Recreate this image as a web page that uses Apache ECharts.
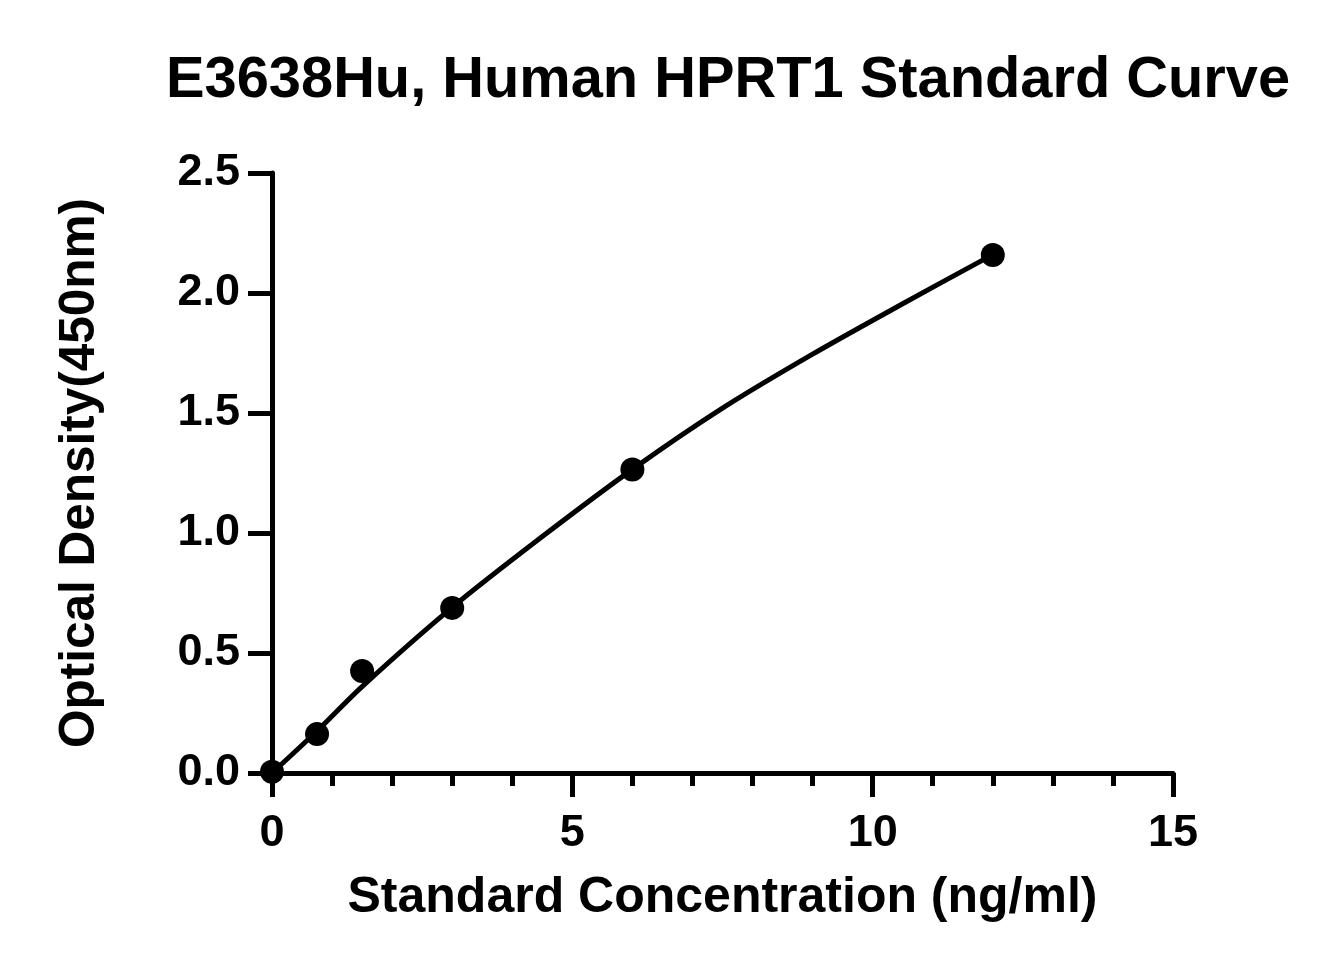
<!DOCTYPE html>
<html>
<head>
<meta charset="utf-8">
<script src="https://cdn.jsdelivr.net/npm/echarts@6/dist/echarts.min.js"></script>
<style>
  html, body { margin: 0; padding: 0; background: #fff; }
  #chart { width: 1329px; height: 975px; }
</style>
</head>
<body>
<div id="chart"></div>
<script>
// standard points
const concentration = [0, 0.75, 1.5, 3, 6, 12]
const opticalDensity = [0.005, 0.162, 0.425, 0.688, 1.265, 2.158]
// fitted curve
const fitConcentration = [0, 0.75, 1.5, 3, 4.5, 6, 7.5, 9, 10.5, 12]
const fitDensity = [0, 0.175, 0.36, 0.69, 0.985, 1.265, 1.52, 1.745, 1.955, 2.16]
const xTicks = [0, 5, 10, 15]
const yTicks = [0, 0.5, 1.0, 1.5, 2.0, 2.5]

const points = concentration.map((c, i) => [c, opticalDensity[i]])
const fitLine = fitConcentration.map((c, i) => [c, fitDensity[i]])
const font = '"Liberation Sans", Arial, sans-serif'

const chart = echarts.init(document.getElementById('chart'), null, { renderer: 'canvas' })

const option = {
  backgroundColor: '#fff',
  animation: false,
  title: {
    text: 'E3638Hu, Human HPRT1 Standard Curve',
    left: 161,
    top: 47,
    textStyle: { fontFamily: font, fontWeight: 'bold', fontSize: 57.8, color: '#000' }
  },
  grid: { left: 272, right: 156, top: 173, bottom: 202 },
  xAxis: {
    type: 'value',
    min: xTicks[0],
    max: xTicks[xTicks.length - 1],
    interval: 5,
    name: 'Standard Concentration (ng/ml)',
    nameLocation: 'middle',
    nameGap: 100,
    nameTextStyle: { fontFamily: font, fontWeight: 'bold', fontSize: 50, color: '#000' },
    axisLine: { onZero: false, lineStyle: { color: '#000', width: 5 } },
    axisTick: { length: 24, lineStyle: { color: '#000', width: 5 } },
    minorTick: { show: true, splitNumber: 5, length: 13, lineStyle: { color: '#000', width: 5 } },
    axisLabel: { margin: 38, fontFamily: font, fontWeight: 'bold', fontSize: 45, color: '#000' },
    splitLine: { show: false }
  },
  yAxis: {
    type: 'value',
    min: yTicks[0],
    max: yTicks[yTicks.length - 1],
    interval: 0.5,
    name: 'Optical Density(450nm)',
    nameLocation: 'middle',
    nameRotate: 90,
    nameGap: 167,
    nameTextStyle: { fontFamily: font, fontWeight: 'bold', fontSize: 49.5, color: '#000' },
    axisLine: { show: true, onZero: false, lineStyle: { color: '#000', width: 5 } },
    axisTick: { show: true, length: 24, lineStyle: { color: '#000', width: 5 } },
    axisLabel: {
      margin: 32,
      fontFamily: font, fontWeight: 'bold', fontSize: 45, color: '#000',
      formatter: v => v.toFixed(1)
    },
    splitLine: { show: false }
  },
  series: [
    {
      name: 'fit',
      type: 'line',
      data: fitLine,
      smooth: 0.3,
      showSymbol: false,
      lineStyle: { color: '#000', width: 5 },
      z: 2
    },
    {
      name: 'standard',
      type: 'scatter',
      data: points,
      symbol: 'circle',
      symbolSize: 24,
      itemStyle: { color: '#000', opacity: 1 },
      z: 3
    }
  ]
}

chart.setOption(option)
</script>
</body>
</html>
